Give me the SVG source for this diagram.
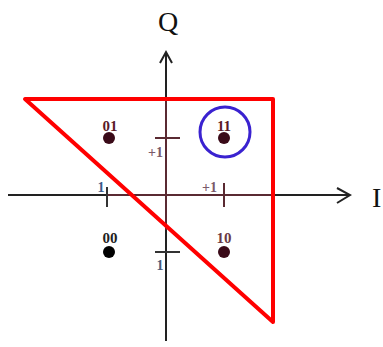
<svg xmlns="http://www.w3.org/2000/svg" width="383" height="347" viewBox="0 0 383 347">
<style>
.ax{stroke:#222;stroke-width:2;fill:none}
.axm{stroke:#5a2a32;stroke-width:2;fill:none}
.tk{stroke:#333;stroke-width:2}
.tkm{stroke:#5a2a32;stroke-width:2}
.lbl{font-family:"Liberation Serif",serif;font-weight:bold;font-size:15px;text-anchor:middle}
.num{font-family:"Liberation Serif",serif;font-weight:bold;font-size:14px}
.pt{stroke:none}
</style>
<rect width="383" height="347" fill="#fff"/>
<g id="axes">
<line class="ax" x1="8" y1="195" x2="350" y2="195"/>
<line class="axm" x1="107" y1="195" x2="272" y2="195"/>
<polyline class="ax" points="337,188 350,195 337,203"/>
<line class="ax" x1="166" y1="52" x2="166" y2="341"/>
<line class="axm" x1="166" y1="99" x2="166" y2="230"/>
<polyline class="ax" points="160,63 166,52 172,63"/>
<text x="168" y="31" font-family="Liberation Serif,serif" font-size="28" text-anchor="middle" fill="#111">Q</text>
<text x="372" y="207" font-family="Liberation Serif,serif" font-size="28" fill="#111">I</text>
</g>
<g id="ticks">
<line class="tkm" x1="155" y1="138" x2="180" y2="138"/>
<text class="num" x="163" y="157" text-anchor="end" fill="#7a5a6a">+1</text>
<line class="tk" x1="155" y1="252" x2="180" y2="252"/>
<text class="num" x="160" y="270" text-anchor="middle" fill="#4a5a7a">1</text>
<line class="tk" x1="107" y1="187" x2="107" y2="207"/>
<text class="num" x="101" y="192" text-anchor="middle" fill="#3a5a8a">1</text>
<line class="tkm" x1="224" y1="183" x2="224" y2="207"/>
<text class="num" x="217" y="192" text-anchor="end" fill="#7a5a6a">+1</text>
</g>
<g id="connectors">
<polygon points="25,99 273,99 273,322" fill="none" stroke="#ff0000" stroke-width="4" stroke-linejoin="round"/>
</g>
<g id="p01">
<circle class="pt" cx="109" cy="138" r="6" fill="#3a0a18"/>
<text class="lbl" x="110" y="131" fill="#5a1a28">01</text>
</g>
<g id="p11">
<circle class="pt" cx="224" cy="138" r="6" fill="#3a0a18"/>
<text class="lbl" x="224" y="131" fill="#5a1a28">11</text>
<circle cx="225" cy="132" r="25" fill="none" stroke="#3a22d0" stroke-width="3"/>
</g>
<g id="p00">
<circle class="pt" cx="109" cy="252" r="6" fill="#000"/>
<text class="lbl" x="110" y="243" fill="#222">00</text>
</g>
<g id="p10">
<circle class="pt" cx="224" cy="252" r="6" fill="#3a0a18"/>
<text class="lbl" x="224" y="243" fill="#6a3a45">10</text>
</g>
</svg>
